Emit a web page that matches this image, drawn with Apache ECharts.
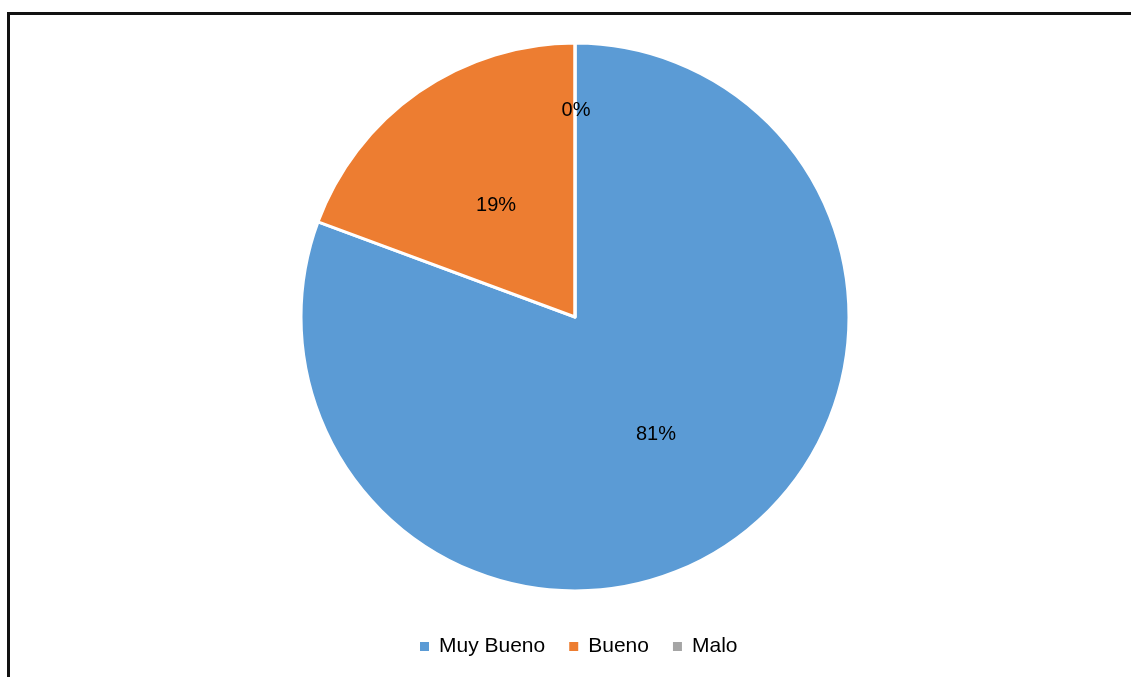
<html>
<head>
    <meta charset="utf-8">
    <title>Pie</title>
    <script src="https://cdn.jsdelivr.net/npm/echarts@6/dist/echarts.min.js"></script>
    <style>
        html, body { margin: 0; padding: 0; background: #fff; }
        #frame {
            position: absolute; left: 7px; top: 12px;
            width: 1200px; height: 700px;
            border-left: 3px solid #111; border-top: 3px solid #111;
        }
        #main { position: absolute; left: 0; top: 0; width: 1131px; height: 677px; }
    </style>
</head>
<body>
    <div id="frame"></div>
    <div id="main"></div>
    <script type="text/javascript">
        // datos de la encuesta
        var categorias = ['Muy Bueno', 'Bueno', 'Malo'];
        var valores = [25, 6, 0];
        var colores = ['#5B9BD5', '#ED7D31', '#A5A5A5'];

        var myChart = echarts.init(document.getElementById('main'));

        var datos = [];
        for (var i = 0; i < categorias.length; i++) {
            datos.push({ name: categorias[i], value: valores[i] });
        }

        var option = {
            color: colores,
            textStyle: { fontFamily: 'Liberation Sans, Arial, sans-serif' },
            legend: {
                bottom: 15,
                left: 413,
                icon: 'rect',
                itemWidth: 11,
                itemHeight: 11,
                itemGap: 22,
                textStyle: { fontSize: 21, color: '#000', padding: [0, 0, 0, 4] },
                data: categorias
            },
            series: [
                {
                    type: 'pie',
                    center: [575, 317],
                    radius: 274,
                    startAngle: 90,
                    clockwise: true,
                    avoidLabelOverlap: false,
                    itemStyle: { borderColor: '#fff', borderWidth: 3 },
                    label: {
                        position: 'inside',
                        color: '#000',
                        fontSize: 20,
                        formatter: function (p) { return Math.round(p.percent) + '%'; }
                    },
                    labelLayout: function (p) {
                        // Excel deja la etiqueta del 0% mas arriba
                        if (p.dataIndex === 2) return { dx: 1, dy: -67 };
                        return { dx: 1, dy: 3 };
                    },
                    emphasis: { disabled: true },
                    data: datos
                }
            ]
        };
        myChart.setOption(option);
    </script>
</body>
</html>
